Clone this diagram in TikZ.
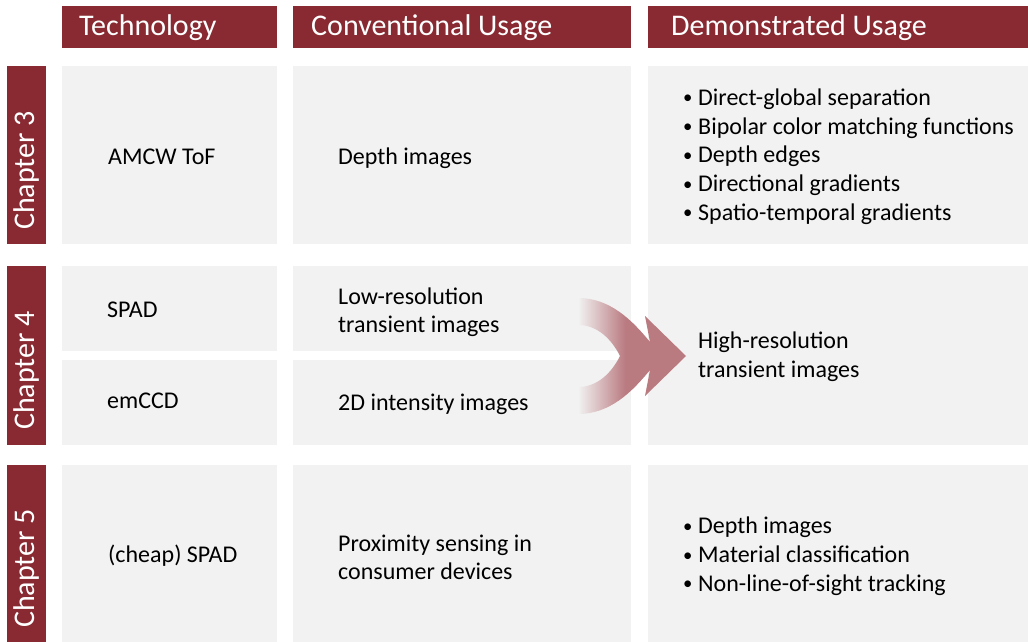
\documentclass[tikz,border=0pt]{standalone}
\usepackage{fontspec}
\setmainfont{Carlito}
\usepackage{xcolor}
\usepackage{graphicx}
\usepackage{tikz}
\usetikzlibrary{positioning}

\definecolor{hdred}{RGB}{137,42,50}
\definecolor{cellgrey}{RGB}{242,242,242}
\definecolor{arrowrose}{RGB}{185,122,128}
\pgfdeclarehorizontalshading{mergefade}{100bp}{color(0bp)=(cellgrey); color(25bp)=(cellgrey);
  color(47bp)=(arrowrose); color(100bp)=(arrowrose)}
\newcommand{\bul}{\makebox[15pt][l]{\raisebox{1.5pt}{\scalebox{0.78}{\textbullet}}}}

\begin{document}
\begin{tikzpicture}[x=1pt, y=-1pt,
    hdr/.style={fill=hdred, anchor=north west, inner sep=0pt, minimum height=42pt},
    hdtext/.style={anchor=base west, inner sep=0pt, text=white, font=\fontsize{30}{36}\selectfont},
    chap/.style={fill=hdred, anchor=north west, inner sep=0pt, minimum width=39pt},
    chaptext/.style={anchor=base west, rotate=90, inner sep=0pt, text=white,
                     font=\fontsize{30}{36}\selectfont},
    cell/.style={fill=cellgrey, anchor=north west, inner sep=0pt},
    txt/.style={anchor=west, align=left, inner sep=0pt, font=\fontsize{24}{28.7}\selectfont,
                execute at begin node=\strut, execute at end node=\strut}
  ]
  \useasboundingbox (0,0) rectangle (1028,642);

  % column headers
  \node[hdr, minimum width=215pt] (hdtech) at (62,6) {};
  \node[hdr, minimum width=338pt] (hdconv) at (293,6) {};
  \node[hdr, minimum width=380pt] (hddemo) at (648,6) {};
  \node[hdtext] (hdtechlbl) at (79,36)  {Technology};
  \node[hdtext] (hdconvlbl) at (311,36) {Conventional Usage};
  \node[hdtext] (hddemolbl) at (671,36) {Demonstrated Usage};

  % chapter tabs
  \node[chap, minimum height=178pt] (ch3) at (7,66)  {};
  \node[chap, minimum height=179pt] (ch4) at (7,266) {};
  \node[chap, minimum height=177pt] (ch5) at (7,465) {};
  \node[chaptext] (ch3lbl) at (34.5,230) {Chapter 3};
  \node[chaptext] (ch4lbl) at (34.5,430) {Chapter 4};
  \node[chaptext] (ch5lbl) at (34.5,628) {Chapter 5};

  % cells
  \node[cell, minimum width=215pt, minimum height=178pt] (tech3) at (62,66)  {};
  \node[cell, minimum width=338pt, minimum height=178pt] (conv3) at (293,66) {};
  \node[cell, minimum width=380pt, minimum height=178pt] (demo3) at (648,66) {};
  \node[cell, minimum width=215pt, minimum height=85pt]  (tech4a) at (62,266)  {};
  \node[cell, minimum width=338pt, minimum height=85pt]  (conv4a) at (293,266) {};
  \node[cell, minimum width=215pt, minimum height=85pt]  (tech4b) at (62,360)  {};
  \node[cell, minimum width=338pt, minimum height=85pt]  (conv4b) at (293,360) {};
  \node[cell, minimum width=380pt, minimum height=179pt] (demo4) at (648,266) {};
  \node[cell, minimum width=215pt, minimum height=177pt] (tech5) at (62,465)  {};
  \node[cell, minimum width=338pt, minimum height=177pt] (conv5) at (293,465) {};
  \node[cell, minimum width=380pt, minimum height=177pt] (demo5) at (648,465) {};

  % merging arrow
  \shade[shading=mergefade]
    (578,298) .. controls (610,298) and (632,320) .. (650,342) -- (645,316) -- (686,356)
    -- (645,396) -- (650,370) .. controls (632,392) and (610,414) .. (578,414) -- (578,387)
    .. controls (598,387) and (612,372) .. (620,356)
    .. controls (612,340) and (598,325) .. (578,325) -- cycle;

  % texts
  \node[txt] (amcw)  at (108,158.5) {AMCW ToF};
  \node[txt] (depth) at (338,158.5) {Depth images};
  \node[txt] (uses3) at (683,158.8) {\bul Direct-global separation\\
                                     \bul Bipolar color matching functions\\
                                     \bul Depth edges\\
                                     \bul Directional gradients\\
                                     \bul Spatio-temporal gradients};
  \node[txt] (spad)  at (107,311.3) {SPAD};
  \node[txt] (emccd) at (107,403.0) {emCCD};
  \node[txt] (lowres) at (338,314.5) {Low-resolution\\transient images};
  \node[txt] (inten) at (338,404.5) {2D intensity images};
  \node[txt] (highres) at (698,358.8) {High-resolution\\transient images};
  \node[txt] (cheap) at (108,556.3) {(cheap) SPAD};
  \node[txt] (prox)  at (338,561.5) {Proximity sensing in\\consumer devices};
  \node[txt] (uses5) at (683,558.5) {\bul Depth images\\
                                     \bul Material classification\\
                                     \bul Non-line-of-sight tracking};
\end{tikzpicture}
\end{document}
